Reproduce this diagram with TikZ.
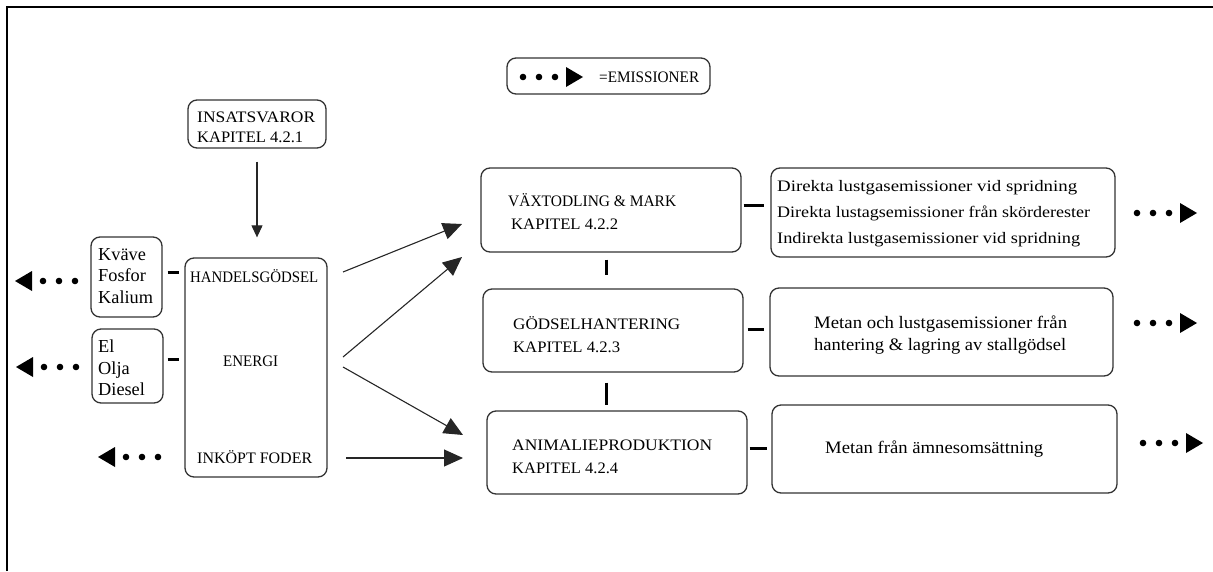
\documentclass[tikz,border=0pt]{standalone}
\usepackage{fontspec}
\usepackage{graphicx}
\setmainfont{Liberation Serif}
\usetikzlibrary{arrows.meta,calc}
\newcommand\fw[2]{\resizebox{#1pt}{\height}{#2}}
\begin{document}
\begin{tikzpicture}[x=1pt,y=-1pt,
  box/.style={draw=black!80, line width=1.3pt, rounded corners=9pt, inner sep=0pt},
  caps/.style={font=\fontsize{16}{20}\selectfont, inner sep=0pt},
  capsb/.style={font=\fontsize{16}{23}\selectfont, inner sep=0pt, anchor=west, align=left},
  link/.style={line width=3pt, black},
  flow/.style={line width=1.1pt, black!85, -{Triangle[length=19pt,width=17pt]}},
  emisR/.pic={
    \fill (-60,0) circle[radius=3.3pt];
    \fill (-44,0) circle[radius=3.3pt];
    \fill (-28,0) circle[radius=3.3pt];
    \fill (-17,-10) -- (0,0) -- (-17,10) -- cycle;
  }]
\useasboundingbox (0,0) rectangle (1213,571);
% frame
\draw[line width=2.5pt] (7,571) -- (7,7) -- (1213,7);

% legend
\node[box, minimum width=203pt, minimum height=36pt] (leg) at (608.5,76) {};
\pic at (583,77) {emisR};
\node[caps, anchor=west] (legT) at (599,77) {\fw{100}{=EMISSIONER}};

% left column
\node[box, minimum width=138pt, minimum height=48pt] (ins) at (257,124) {};
\node[caps, anchor=west, align=left] (insT) at (197,127) {\fw{118}{INSATSVAROR}\\\fw{106}{KAPITEL 4.2.1}};

\node[box, minimum width=142pt, minimum height=219pt] (big) at (256,367.5) {};
\node[caps, anchor=west] (hg) at (190,276) {\fw{128}{HANDELSGÖDSEL}};
\node[caps, anchor=west] (en) at (223,361) {\fw{55}{ENERGI}};
\node[caps, anchor=west] (ik) at (197,457) {\fw{115}{INKÖPT FODER}};

\node[box, minimum width=71pt, minimum height=80pt] (kv) at (126.5,277) {};
\node[anchor=west, align=left, inner sep=0pt, font=\fontsize{18.3}{21.5}\selectfont] (kvT) at (98,276) {Kväve\\Fosfor\\Kalium};
\node[box, minimum width=71pt, minimum height=74pt] (el) at (127.5,366) {};
\node[anchor=west, align=left, inner sep=0pt, font=\fontsize{18.3}{21.5}\selectfont] (elT) at (98,368) {El\\Olja\\Diesel};

\pic[xscale=-1] at (15,281) {emisR};
\pic[xscale=-1] at (16,367) {emisR};
\pic[xscale=-1] at (98,457) {emisR};

% middle column
\node[box, minimum width=260pt, minimum height=84pt] (b1) at (611,210) {};
\node[capsb] (b1T) at (508,211.5) {\fw{168}{VÄXTODLING \& MARK}\\\hspace{3pt}\fw{107}{KAPITEL 4.2.2}};
\node[box, minimum width=260pt, minimum height=83pt] (b2) at (613,330.5) {};
\node[capsb] (b2T) at (513,334.5) {\fw{167}{GÖDSELHANTERING}\\\fw{107}{KAPITEL 4.2.3}};
\node[box, minimum width=260pt, minimum height=83pt] (b3) at (617,452.5) {};
\node[capsb] (b3T) at (512,456.5) {\fw{200}{ANIMALIEPRODUKTION}\\\fw{106}{KAPITEL 4.2.4}};

% right column
\node[box, minimum width=344pt, minimum height=89pt] (r1) at (943,212.5) {};
\node[anchor=west, align=left, inner sep=0pt, font=\fontsize{16}{26}\selectfont] (r1T) at (777,214) {\fw{300}{Direkta lustgasemissioner vid spridning}\\\fw{313}{Direkta lustagsemissioner från skörderester}\\\fw{303}{Indirekta lustgasemissioner vid spridning}};
\node[box, minimum width=343pt, minimum height=88pt] (r2) at (941.5,332) {};
\node[anchor=west, align=left, inner sep=0pt, font=\fontsize{17.5}{22}\selectfont] (r2T) at (814,335) {\fw{253}{Metan och lustgasemissioner från}\\\fw{252}{hantering \& lagring av stallgödsel}};
\node[box, minimum width=345pt, minimum height=88pt] (r3) at (944.5,449) {};
\node[anchor=west, inner sep=0pt, font=\fontsize{17.5}{22}\selectfont] (r3T) at (825,449) {\fw{218}{Metan från ämnesomsättning}};

\pic at (1197,213) {emisR};
\pic at (1197,323) {emisR};
\pic at (1203,443) {emisR};

% connectors
\draw[line width=1.1pt, black!85, -{Triangle[length=12pt,width=11pt]}, shorten <=13pt, shorten >=20pt] (ins.south) -- (ins.south |- big.north);

\coordinate (s1) at (343,272); \coordinate (e1) at (462,224);
\coordinate (s2) at (343,357); \coordinate (e2) at (462,257);
\coordinate (s3) at (343,367); \coordinate (e3) at (463,435);
\coordinate (s4) at (346,458); \coordinate (e4) at (463,458);
\draw[flow] (s1) -- (e1);
\draw[flow] (s2) -- (e2);
\draw[flow] (s3) -- (e3);
\draw[flow] (s4) -- (e4);

\draw[link, shorten <=5pt, shorten >=5pt] ([yshift=5pt]kv.east) -- ([yshift=5pt]kv.east -| big.west);
\draw[link, shorten <=4pt, shorten >=5pt] ([yshift=7pt]el.east) -- ([yshift=7pt]el.east -| big.west);
\draw[link, shorten <=7pt, shorten >=13pt] ([xshift=-5pt]b1.south) -- ([xshift=-5pt]b1.south |- b2.north);
\draw[link, shorten <=10pt, shorten >=5pt] ([xshift=-7pt]b2.south) -- ([xshift=-7pt]b2.south |- b3.north);
\draw[link, shorten <=2pt, shorten >=6pt] ([yshift=5pt]b1.east) -- ([yshift=5pt]b1.east -| r1.west);
\draw[link, shorten <=4pt, shorten >=5pt] ([yshift=1.5pt]b2.east) -- ([yshift=1.5pt]b2.east -| r2.west);
\draw[link, shorten <=2pt, shorten >=4pt] ([yshift=4.5pt]b3.east) -- ([yshift=4.5pt]b3.east -| r3.west);
\end{tikzpicture}
\end{document}
